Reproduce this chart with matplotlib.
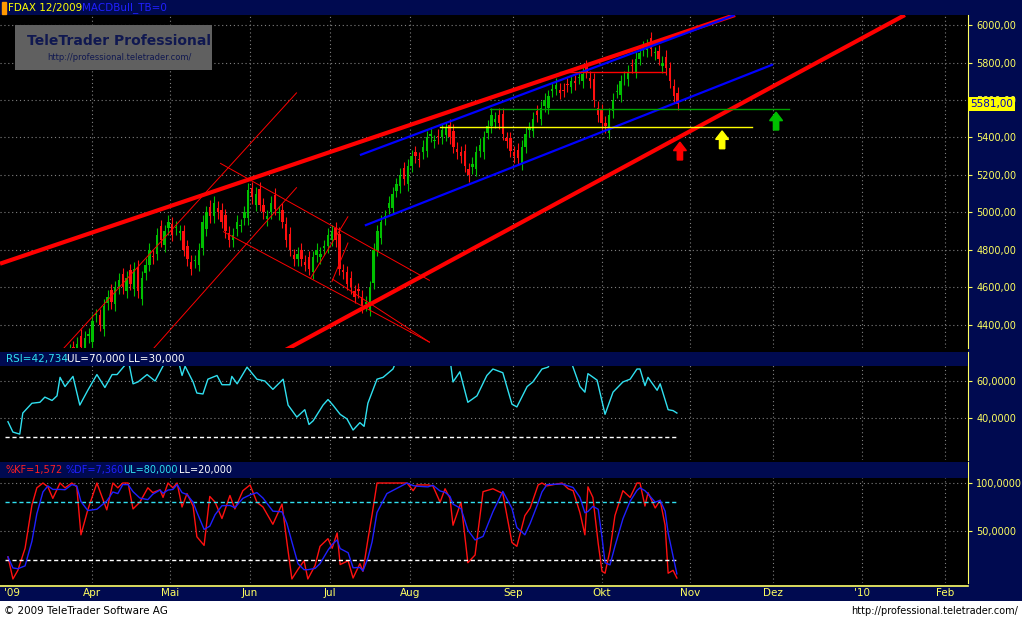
import matplotlib
matplotlib.use('Agg')
import matplotlib.pyplot as plt
import numpy as np
import pandas as pd
from matplotlib.patches import Rectangle, FancyArrow
from matplotlib.ticker import FuncFormatter

# ---- data (x = trading-day index from early March 2009) ----
closes = [3900, 3850, 3800, 3750, 3700, 3780, 3900, 3950, 3920, 4000, 4050, 3990, 4080, 4120,
          4150, 4200, 4180, 4260, 4240, 4300, 4280, 4330, 4350, 4420, 4450, 4400, 4500, 4550,
          4520, 4600, 4640, 4600, 4650, 4620, 4700, 4580, 4650, 4720, 4800, 4760, 4880, 4850,
          4900, 4950, 4880, 4920, 4900, 4800, 4750, 4700, 4740, 4800, 4950, 5000, 4980, 5050,
          5000, 4950, 4900, 4850, 4880, 4950, 4930, 5000, 5120, 5080, 5100, 5040, 5000, 4980,
          5050, 5020, 5000, 4950, 4850, 4800, 4750, 4780, 4750, 4720, 4700, 4760, 4800, 4780,
          4820, 4880, 4900, 4850, 4700, 4680, 4620, 4600, 4550, 4580, 4500, 4520, 4600, 4800,
          4900, 4950, 4980, 5050, 5100, 5150, 5200, 5180, 5250, 5300, 5300, 5280, 5350, 5400,
          5420, 5380, 5400, 5440, 5450, 5400, 5350, 5320, 5300, 5250, 5200, 5260, 5320, 5360,
          5400, 5460, 5520, 5500, 5480, 5420, 5380, 5330, 5300, 5290, 5350, 5420, 5450, 5500,
          5520, 5560, 5600, 5620, 5660, 5680, 5640, 5650, 5680, 5700, 5690, 5720, 5740, 5750,
          5700, 5600, 5520, 5480, 5460, 5520, 5600, 5650, 5700, 5720, 5750, 5780, 5820, 5850,
          5880, 5890, 5870, 5850, 5820, 5800, 5770, 5700, 5620, 5581]
# opening gaps versus previous close
gaps = [0, 30, -20, 40, -30, 10, -40, 25, 0, -35, 20, 45, -25, 15, -10, 35, -30, 0, 20, -15,
        40, -20, 10, -40, 30, 0, -25, 15, 35, -10] * 6

rsi_day = [0.8, 2.1, 3.9, 4.7, 7.1, 9.2, 10.5, 12.4, 13.7, 14.5, 15.8, 17.9, 19.7, 21.8, 24.2,
           26.3, 28.2, 29.5, 31.6, 32.4, 33.7, 35, 37.4, 39.5, 42.6, 45.5, 46.6, 47.4, 49.5,
           50.5, 52.1, 53.4, 55.8, 57.1, 59.2, 59.7, 61.1, 63.7, 66.3, 68.4, 70.5, 73.2, 74.5,
           76.8, 78.9, 80, 81.1, 83.7, 85, 86.3, 88.2, 90, 91.6, 93.4, 94.5, 95.5, 97.9, 99.5,
           102.1, 103.2, 109.2, 117.1, 117.9, 119.7, 121.8, 124.2, 126.8, 128.4, 131, 133.4,
           134.7, 137.4, 138.9, 141.3, 142.9, 144.2, 146.6, 148.7, 151.3, 152.6, 153.4, 155.8,
           157.9, 160, 162.6, 164.5, 166.3, 167.1, 168.4, 169.2, 171.6, 172.4, 174.5, 175.8, 176.8]
rsi_val = [38, 32.4, 31.3, 42.7, 48, 48.5, 51.3, 49.5, 52, 62, 57, 62.5, 47, 55, 63.5,
           56.5, 63.5, 63.5, 68.6, 72, 58.5, 59.5, 63.5, 60, 72, 72, 63, 68, 59.5,
           53.5, 53, 61, 63, 58, 58, 62.5, 58.5, 67.5, 61, 60, 55.5, 61, 47,
           40.5, 44.5, 36.5, 38.5, 47, 50, 47, 42, 39.5, 33.5, 37.5, 35.5, 48, 61, 62,
           66.5, 72, 74, 72, 59.5, 65, 48.5, 52, 63, 66.5, 64.5, 47.5,
           46, 57, 59.5, 66.5, 67.5, 72, 74, 72, 57, 54, 64, 60.5,
           42, 54, 59.5, 61, 66.5, 66.5, 57.5, 62, 55, 58.5, 44.5, 44, 42.7]

sto_day = [0.8, 2.1, 3.4, 5.3, 7.1, 8.4, 10, 11.3, 12.6, 14.5, 15.8, 17.6, 18.9, 20, 21.8, 24.2,
           26.8, 28.4, 29.7, 31, 32.4, 33.7, 35.5, 37.6, 38.9, 40.8, 41.6, 42.9, 44.2, 45.3,
           46.6, 47.9, 49.5, 50.5, 52.4, 53.9, 55.3, 57.1, 59.2, 60.5, 62.6, 64.5, 66.3, 67.9,
           70.5, 72.9, 74.2, 75.5, 77.1, 78.7, 79.7, 81.6, 82.9, 85, 86.1, 87.4, 88.2, 90.3,
           91.6, 93.4, 94.2, 95.5, 96.6, 97.9, 100.5, 105.8, 107.4, 108.4, 111.3, 112.6, 114.5,
           115.8, 117.1, 117.9, 120, 121.8, 123.7, 125.8, 128.4, 131, 133.4, 134.7, 136.8,
           138.2, 140.3, 141.3, 142.6, 146.6, 148.2, 149.5, 151.3, 152.6, 153.4, 154.7, 156.1,
           157.1, 157.9, 159.2, 160.5, 162.6, 164.5, 166.3, 167.1, 168.4, 169.2, 171.1, 172.4,
           173.7, 174.5, 175.8, 176.8]
sto_k = [23, 0, 9, 32, 77, 95, 100, 96, 84, 100, 95, 100, 96, 46, 72, 100,
         72, 100, 95, 100, 100, 73, 80, 95, 90, 93, 85, 100, 95, 100,
         75, 89, 76, 44, 35, 86, 80, 63, 87, 73, 92, 98, 80, 75,
         57, 78, 38, 0, 10, 19, 0, 14, 34, 42, 32, 48, 15, 19,
         1, 16, 8, 41, 67, 100, 100, 100, 92, 98, 98, 97, 80,
         94, 84, 56, 80, 17, 25, 91, 94, 89, 38, 34, 66,
         74, 98, 100, 97, 100, 94, 92, 69, 46, 96, 85, 37,
         8, 6, 30, 66, 92, 85, 100, 100, 76, 90, 74, 82,
         56, 6, 9, 1]

# trend lines: (day0, price0, day1, price1, colour, width)
trend_lines = [
    (-1.3, 4726, 192.1, 6054, 'red', 3.0),
    (73.7, 4264, 236.8, 6054, 'red', 3.0),
    (93.4, 5306, 192.0, 6054, '#0000ff', 1.6),
    (94.7, 4930, 202.1, 5790, '#0000ff', 1.6),
    (14.5, 4253, 76.8, 5640, 'red', 0.7),
    (38.2, 4253, 76.8, 5134, 'red', 0.7),
    (56.6, 5263, 111.8, 4636, 'red', 0.7),
    (57.4, 4898, 111.8, 4306, 'red', 0.7),
    (80.3, 4645, 90.3, 4979, 'red', 0.7),
    (86.0, 4629, 90.3, 4839, 'red', 0.7),
    (86.1, 4645, 111.8, 4306, 'red', 0.7),
]
# horizontal levels: (price, day0, day1, colour)
levels = [(5455, 114.5, 196.6, 'yellow'), (5554, 127.6, 206.3, '#00a000'),
          (5747, 146.0, 173.7, 'red')]
# arrows: (day, tip price, colour)
arrows = [(177.6, 5390, 'red'), (188.7, 5450, 'yellow'), (202.9, 5550, '#00c000')]

month_day = [-0.3, 23, 43.4, 64.5, 85.5, 106.6, 133.7, 157, 180.3, 202, 225.5, 247.4]
month_lbl = ["'09", 'Apr', 'Mai', 'Jun', 'Jul', 'Aug', 'Sep', 'Okt', 'Nov', 'Dez', "'10", 'Feb']

NAVY = '#000a50'
W, H = 1022, 622
XL = (-1.3, 253.4)
FS = 7.5


def fy(y):
    return 1 - y / H


fig = plt.figure(figsize=(W / 100, H / 100), dpi=100, facecolor='black')


def frect(x0, y0, x1, y1, color, z=0):
    fig.add_artist(Rectangle((x0 / W, fy(y1)), (x1 - x0) / W, (y1 - y0) / H,
                             transform=fig.transFigure, color=color, zorder=z, lw=0))


# frames
frect(0, 0, 1022, 15, NAVY)
frect(968, 15, 1022, 585, NAVY)
frect(0, 585, 1022, 601, NAVY)
frect(0, 601, 1022, 622, 'white')


def panel(y0, y1):
    ax = fig.add_axes([0, fy(y1), 968 / W, (y1 - y0) / H])
    ax.set_facecolor('black')
    ax.set_xlim(*XL)
    for s in ax.spines.values():
        s.set_visible(False)
    ax.spines['right'].set_visible(True)
    ax.spines['right'].set_color('#ffff60')
    ax.yaxis.tick_right()
    ax.tick_params(axis='y', colors='#ffff60', labelsize=7, length=3, pad=3)
    ax.tick_params(axis='x', length=0, labelbottom=False)
    ax.set_xticks(month_day[1:])
    ax.grid(True, color='#808080', ls=(0, (1, 2.5)), lw=0.8)
    return ax


fmt2 = FuncFormatter(lambda v, p: '{:.2f}'.format(v).replace('.', ','))
fmt4 = FuncFormatter(lambda v, p: '{:.4f}'.format(v).replace('.', ','))

# ---- price panel ----
ax = panel(15, 348)
ax.set_ylim(4276, 6054)
ax.set_yticks(np.arange(4400, 6001, 200))
ax.yaxis.set_major_formatter(fmt2)
days = np.arange(len(closes))
opens = [closes[0]] + [c + g for c, g in zip(closes[:-1], gaps[1:])]
for d, o, c in zip(days, opens, closes):
    col = '#00c000' if c >= o else '#ff1010'
    lo, hi = min(o, c), max(o, c)
    ax.vlines(d, lo - 35, hi + 35, color=col, lw=0.8, zorder=3)
    ax.bar(d, max(hi - lo, 5), bottom=lo, width=0.65, color=col, zorder=3)
for d0, p0, d1, p1, col, lw in trend_lines:
    ax.plot([d0, d1], [p0, p1], color=col, lw=lw, zorder=4, solid_capstyle='butt')
for p, d0, d1, col in levels:
    ax.plot([d0, d1], [p, p], color=col, lw=1.0, zorder=4)
for d, p, col in arrows:
    ax.add_patch(FancyArrow(d, p - 110, 0, 95, width=1.4, head_width=3.4, head_length=45,
                            length_includes_head=True, color=col, zorder=5))
ax.text(1.002, (5581 - 4276) / (6054 - 4276), '5581,00', transform=ax.transAxes,
        color='#0000c0', fontsize=7.5, va='center', ha='left',
        bbox=dict(boxstyle='square,pad=0.2', fc='yellow', ec='none'), zorder=10)

# title and watermark
fig.add_artist(Rectangle((2 / W, fy(14)), 4 / W, 12 / H, transform=fig.transFigure, color='#ff9900'))
fig.text(8 / W, fy(8), 'FDAX 12/2009', color='yellow', fontsize=FS, va='center')
fig.text(82 / W, fy(8), 'MACDBull_TB=0', color='#2020ff', fontsize=FS, va='center')
frect(15, 25, 212, 70, '#606060', 2)
fig.text(27 / W, fy(41), 'TeleTrader Professional', color='#101850', fontsize=10,
         fontweight='bold', va='center', zorder=3)
fig.text(47 / W, fy(58), 'http://professional.teletrader.com/', color='#101850', fontsize=6,
         va='center', zorder=3)

# ---- RSI panel ----
ax2 = panel(352, 460)
ax2.set_ylim(17.3, 75.7)
ax2.set_yticks([40, 60])
ax2.yaxis.set_major_formatter(fmt4)
ax2.plot(rsi_day, rsi_val, color='#30e0f0', lw=1.0, zorder=3)
ax2.plot([0, 177], [30, 30], color='white', ls=(0, (3, 2)), lw=1.0, zorder=3)
frect(0, 352, 968, 366, NAVY, 5)
fig.text(6 / W, fy(359), 'RSI=42,734', color='#30e0f0', fontsize=FS, va='center', zorder=6)
fig.text(67 / W, fy(359), 'UL=70,000 LL=30,000', color='white', fontsize=FS, va='center', zorder=6)

# ---- stochastic panel ----
ax3 = panel(462, 583)
ax3.set_ylim(-4.2, 121.9)
ax3.set_yticks([50, 100])
ax3.yaxis.set_major_formatter(fmt4)
sto_d = pd.Series(sto_k).rolling(3, min_periods=1).mean()
ax3.plot(sto_day, sto_k, color='#ff1010', lw=1.0, zorder=3)
ax3.plot(sto_day, sto_d, color='#2020ff', lw=1.0, zorder=4)
ax3.plot([0, 177], [80, 80], color='#30e0f0', ls=(0, (3, 2)), lw=1.0, zorder=3)
ax3.plot([0, 177], [20, 20], color='white', ls=(0, (3, 2)), lw=1.0, zorder=3)
frect(0, 462, 968, 478, NAVY, 5)
fig.text(5 / W, fy(470), '%KF=1,572', color='#ff2020', fontsize=7, va='center', zorder=6)
fig.text(65 / W, fy(470), '%DF=7,360', color='#2020ff', fontsize=7, va='center', zorder=6)
fig.text(123 / W, fy(470), 'UL=80,000', color='#30e0f0', fontsize=7, va='center', zorder=6)
fig.text(179 / W, fy(470), 'LL=20,000', color='white', fontsize=7, va='center', zorder=6)

# ---- date axis and footer ----
fig.add_artist(plt.Line2D([0, 968 / W], [fy(586), fy(586)], color='#ffff60', lw=1.2,
                          transform=fig.transFigure))
for d, lbl in zip(month_day, month_lbl):
    xpx = (d - XL[0]) / (XL[1] - XL[0]) * 968
    fig.text(xpx / W, fy(593), lbl, color='#ffff60', fontsize=FS, va='center',
             ha='left' if lbl == "'09" else 'center')
fig.text(4 / W, fy(611), '\u00a9 2009 TeleTrader Software AG', color='black', fontsize=FS, va='center')
fig.text(1018 / W, fy(611), 'http://professional.teletrader.com/', color='black', fontsize=7,
         va='center', ha='right')

fig.savefig('out.png', dpi=100, facecolor='black')
